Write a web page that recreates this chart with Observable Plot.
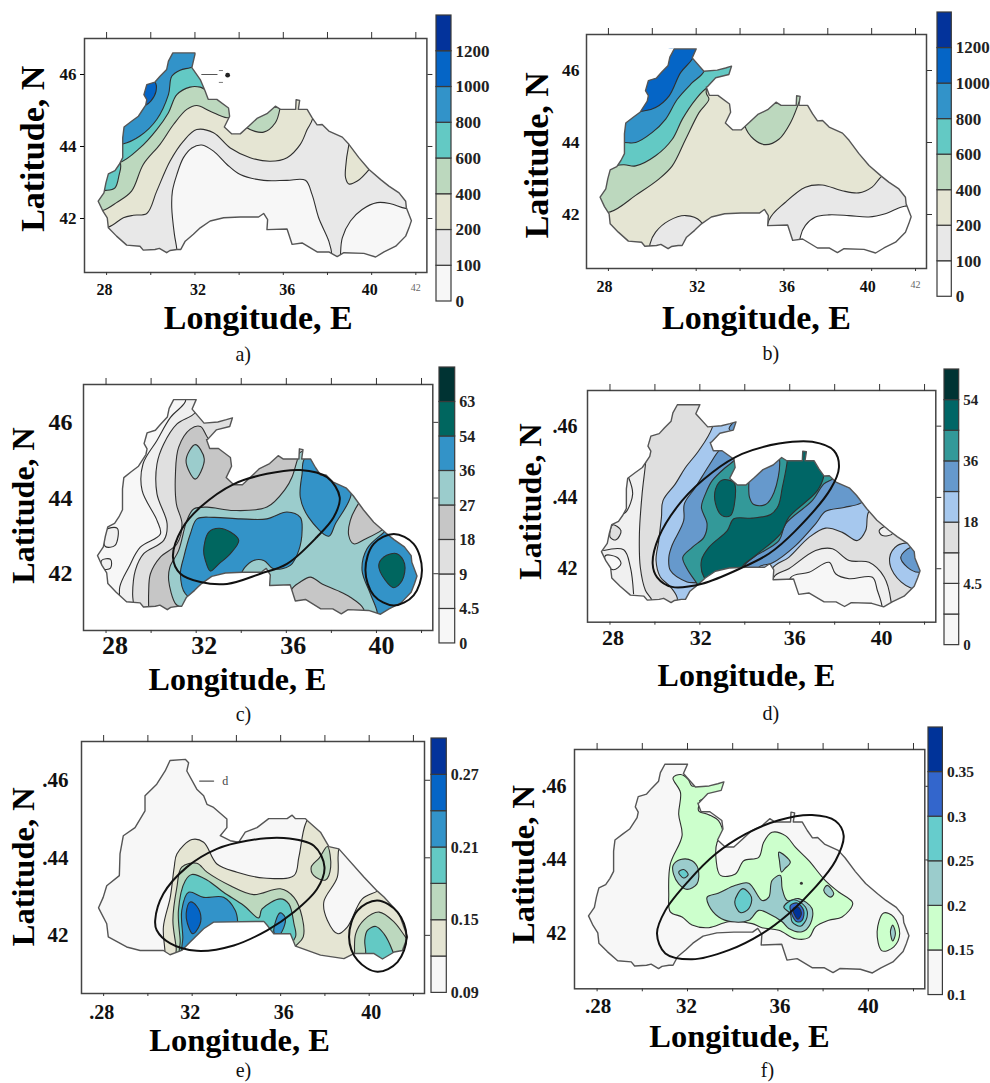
<!DOCTYPE html>
<html><head><meta charset="utf-8">
<script src="https://cdn.jsdelivr.net/npm/d3@7"></script>
<script src="https://cdn.jsdelivr.net/npm/@observablehq/plot@0.6"></script>
<style>html,body{margin:0;background:#fff;overflow:hidden}#page{position:relative;width:990px;height:1083px;overflow:hidden}#page svg{position:absolute;background:transparent;overflow:visible}</style>
</head><body><div id="page"></div>
<script>
// ---------- coastlines (lon E, lat N) ----------
const coastMain=[[31,46.6],[30.8,46.37],[30.72,46.14],[30.42,45.95],[30.19,45.79],[29.82,45.72],[29.69,45.44],[29.82,45.3],[29.77,45.15],[29.44,44.84],[29.13,44.7],[28.79,44.54],[28.73,44.24],[28.73,43.69],[28.57,43.5],[28.38,43.33],[28.08,43.24],[27.97,42.99],[27.88,42.71],[27.62,42.48],[27.82,42.22],[28.03,42.02],[28.08,41.74],[28.45,41.51],[28.91,41.26],[29.51,41.23],[29.66,41.12],[30.19,41.14],[30.39,41.17],[30.72,41.05],[30.87,41.11],[31.18,41.14],[31.36,41.14],[31.56,41.37],[31.93,41.56],[32.24,41.74],[32.69,41.93],[33.3,42.02],[34.05,42.04],[34.88,42.04],[35.11,42.14],[35.29,41.97],[35.26,41.69],[36.17,41.71],[36.4,41.28],[36.85,41.32],[37.53,41.07],[38.06,41.07],[38.44,40.94],[38.74,41.05],[39.65,41.03],[40.18,40.93],[40.56,41.07],[41.09,41.23],[41.54,41.51],[41.69,41.74],[41.8,41.94],[41.57,42.3],[41.54,42.48],[41.24,42.71],[40.78,42.9],[40.41,43.08],[39.88,43.36],[39.42,43.69],[38.97,44.06],[38.67,44.26],[38.06,44.43],[37.76,44.61],[37.53,44.6],[37.3,44.8],[37.08,45.03],[36.68,45.03],[36.74,45.28],[36.58,45.3],[36.56,45.03],[35.87,45.03],[35.64,45.12],[35.26,44.91],[34.81,44.78],[34.43,44.56],[34.05,44.35],[33.67,44.35],[33.33,44.54],[33.57,44.84],[33.52,45.07],[32.99,45.31],[32.6,45.31],[32.46,45.54]];
const coastNoArm=[[32.24,45.86],[31.86,46.19],[32,46.56],[32,46.6]];
const coastArm=[[32.51,45.55],[32.89,45.8],[33.49,45.89],[33.61,46.12],[33.34,46.07],[32.96,46.01],[32.35,45.98],[31.82,46.35],[32,46.6]];
const coastE=[[31,46.51],[30.78,46.24],[30.4,45.9],[29.87,45.6],[29.87,45.21],[29.42,44.78],[28.89,44.57],[28.74,44.1],[28.71,43.54],[28.14,43.28],[27.98,42.98],[27.77,42.71],[28.14,42.3],[28.21,41.96],[29.04,41.7],[29.65,41.61],[30.7,41.61],[31,41.5],[31.53,41.61],[31.91,41.83],[32.52,42.17],[32.97,42.34],[35.24,42.36],[35.39,42.26],[35.69,42.04],[36.44,42.04],[36.67,41.72],[37.8,41.49],[38.86,41.4],[39.31,41.53],[40.22,41.53],[40.6,41.39],[41.13,41.57],[41.5,41.61],[41.73,41.96],[41.35,42.56],[40.67,42.99],[40.37,43.14],[39.77,43.5],[38.63,44.23],[38.18,44.29],[37.8,44.66],[37.2,44.96],[37.12,45.01],[36.67,45.01],[36.52,45.1],[36.29,45.01],[35.46,45.01],[34.93,44.78],[34.4,44.66],[34.1,44.4],[33.72,44.44],[33.27,44.57],[33.57,44.78],[33.57,45],[32.97,45.3],[32.67,45.38],[32.52,45.6],[32.21,45.77],[31.76,46.24],[31.84,46.45],[31.69,46.54]];
const coastA=[...coastMain,...coastNoArm], coastFull=[...coastMain,...coastArm];

// ---------- colour bars ----------
const colorsA=["#f7f7f7","#e8e8e8","#e5e5d3","#bcd8be","#63c9c4","#3293c9","#0565c6","#03339b"];
const colorsB=["#ffffff","#e8e8e8","#e5e5d3","#bcd8be","#63c9c4","#3293c9","#0565c6","#03339b"];
const colorsC=["#f7f7f7","#f0f0f0","#e0e0e0","#c6c6c6","#9bcccc","#3393c8","#00665f","#003333"];
const colorsD=["#f7f7f7","#f7f7f7","#f0f0f0","#dfdfdf","#a6c8ee","#6699cc","#339999","#006666","#003333"];
const colorsE=["#f7f7f7","#e5e5d3","#bcd8be","#63c9c4","#3293c9","#0565c6","#03339b"];
const colorsF=["#f7f7f7","#ccffcc","#9bcccc","#66cccc","#3366cc","#003399"];
const barA=["0","100","200","400","600","800","1000","1200"];
const barC=["0","4.5","9","18","27","36","54","63"];
const barD=["0","","4.5","","18","","36","","54"];
const barE=["0.09","","0.15","","0.21","","0.27"];
const barF=["0.1","0.15","0.2","0.25","0.3","0.35"];

// ---------- contour regions: [colour index, outline], painted in order ----------
const regionsA=[
[0,[[31.18,41.14],[31.07,41.56],[30.95,42.3],[30.98,42.76],[31.18,43.22],[31.48,43.69],[31.86,43.96],[32.31,44.04],[32.84,43.87],[33.45,43.5],[34.05,43.22],[35.11,43.06],[36.17,43.06],[37,43.06],[37.3,42.67],[37.6,42.02],[38.06,41.37],[38.21,40.95],[38.2,40.63],[31.2,40.63]]],
[0,[[38.59,41],[38.67,41.46],[39.04,41.93],[39.57,42.25],[40.25,42.44],[40.86,42.41],[41.54,42.28],[42.3,42.28],[42.3,40.6],[38.59,40.6]]],
[2,[[28.08,41.76],[28.76,42.02],[29.21,42.09],[29.82,42.14],[30.27,42.76],[30.87,43.59],[31.48,44.15],[32.08,44.47],[32.84,44.38],[33.6,43.96],[34.5,43.69],[35.41,43.59],[36.17,43.69],[36.77,44.06],[37.08,44.47],[37.33,44.78],[37.5,46.9],[27.1,46.9],[27.1,41.76]]],
[2,[[38.97,44.06],[38.82,43.41],[38.82,43.13],[38.97,42.96],[39.35,43.04],[39.88,43.36],[40.5,43.9],[39.2,44.6]]],
[3,[[27.82,42.22],[28.45,42.44],[29.13,42.76],[29.66,43.5],[30.42,44.06],[31.03,44.61],[31.63,45.03],[32.08,45.14],[32.69,44.98],[33.45,44.8],[33.9,44.9],[33.9,46.9],[27.1,46.9],[27.1,42.22]]],
[3,[[34.35,44.52],[35.11,44.4],[35.64,44.66],[35.84,45.03],[35.9,45.5],[34.5,45.4],[34,44.8]]],
[4,[[28.57,43.55],[29.51,43.96],[30.27,44.47],[30.8,44.94],[31.18,45.44],[31.78,45.65],[32.24,45.65],[32.69,45.54],[33,46.8],[27.2,46.8],[27.2,43.55]]],
[4,[[27.97,42.78],[28.38,42.85],[28.57,43.22],[28.64,43.45],[28.5,43.8],[27.5,43.5],[27.5,42.8]]],
[5,[[28.73,44.07],[29.51,44.29],[30.27,44.75],[30.8,45.44],[30.95,45.95],[31.33,46.12],[31.78,46.19],[32.2,46.3],[32.2,46.9],[27.2,46.9],[27.2,44.07]]],
[6,[[30.19,45.79],[30.24,45.54],[30,45.26],[29.77,45.15],[29.2,45.2],[29.6,45.9]]]];
const regionsB=[
[3,[[28.11,42.08],[29.24,42.53],[30.31,42.99],[30.91,43.35],[31.52,44.09],[32.13,44.83],[32.58,45.2],[32.46,45.38],[32.6,46.9],[27.1,46.9],[27.1,42.08]]],
[4,[[28.71,43.38],[29.24,43.35],[30.15,43.63],[30.91,44.09],[31.37,44.65],[31.98,45.2],[32.51,45.52],[34,45.8],[34,46.9],[27.1,46.9],[27.1,43.38]]],
[5,[[28.71,44],[29.24,44],[30,44.28],[30.61,44.65],[31.14,45.2],[31.82,45.66],[32.36,45.98],[32.6,46.9],[27.1,46.9],[27.1,44]]],
[6,[[29.65,44.88],[30.15,44.97],[30.76,45.29],[31.29,45.94],[31.82,46.32],[32.2,46.9],[27.1,46.9],[27.1,44.88]]],
[3,[[34.22,44.46],[34.63,44.09],[35.16,43.94],[35.77,44.09],[36.3,44.55],[36.65,45.06],[36.9,45.5],[34.2,45.5]]],
[1,[[35.31,41.83],[36.07,42.34],[36.98,42.76],[37.74,42.82],[38.65,42.66],[39.41,42.6],[40.02,42.76],[40.5,43.08],[41.5,43.3],[42.3,42.5],[42.3,40.6],[35.31,40.6]]],
[0,[[36.76,41.4],[36.98,41.7],[37.44,41.93],[38.05,41.99],[38.96,41.97],[39.87,41.93],[40.62,42.02],[41.5,42.23],[42.3,42.2],[42.3,40.6],[36.76,40.6]]],
[1,[[29.9,41.19],[30.15,41.51],[30.76,41.83],[31.52,41.97],[32.2,41.81],[32.5,41.2],[31.5,40.6],[29.9,40.6]]]];
const regionsC=[
[1,[[31.52,46.55],[30.86,46.13],[30.26,45.52],[29.64,44.9],[29.6,44.2],[30.26,43.41],[30.41,43.05],[29.52,42.7],[29.01,42.17],[28.61,41.65],[28.64,41.12],[28.64,40.6],[42.4,40.6],[42.4,46.9],[31.52,46.9]]],
[2,[[31.96,46.26],[31.15,45.96],[30.56,45.43],[30.26,44.9],[30.26,44.11],[30.71,43.32],[30.56,42.88],[29.67,42.53],[29.3,42.09],[29.18,41.47],[29.23,41.12],[29.23,40.6],[42.4,40.6],[42.4,46.9],[32.3,46.9]]],
[3,[[32.56,45.56],[32.19,45.89],[31.74,45.82],[31.22,45.34],[31.08,44.64],[31.12,43.85],[31.37,43.32],[31.15,42.79],[30.41,42.44],[29.97,42],[29.89,41.47],[29.89,41.12],[29.89,40.6],[42.4,40.6],[42.4,45],[33,45.45]]],
[4,[[36.48,44.99],[36.25,44.55],[35.96,44.24],[35.14,43.76],[33.67,43.67],[32.48,43.76],[31.89,43.71],[31.59,43.41],[31.22,42.61],[30.83,42.17],[30.78,41.82],[31.08,41.21],[31.37,41.07],[31.4,40.6],[42.4,40.6],[42.4,45.2],[36.6,45.2]]],
[3,[[39.21,43.86],[38.84,43.41],[38.77,43.01],[38.99,42.79],[39.51,42.92],[40.25,43.16],[40.8,43.5],[39.8,44.3]]],
[3,[[36.21,41.56],[36.62,41.78],[37.07,41.91],[37.59,41.73],[38.25,41.56],[38.84,41.38],[39.43,41.07],[39.4,40.6],[36.2,40.6]]],
[5,[[32.04,43.45],[32.78,43.49],[33.96,43.45],[35.14,43.45],[36.03,43.63],[36.62,43.49],[36.7,43.14],[36.55,42.61],[36.18,42.22],[35.44,42.13],[35,42.35],[34.55,42.35],[34.15,42.16],[33.67,41.65],[32.04,41.3],[31.52,41.47],[31.3,42],[31.45,42.44],[31.74,43.05]]],
[5,[[36.8,45.03],[36.7,44.64],[36.62,44.02],[36.99,43.49],[37.88,42.99],[38.18,43.32],[38.87,44.07],[38.8,44.8],[37.5,45.3]]],
[5,[[40.03,40.99],[39.73,41.47],[39.36,42.09],[39.58,42.66],[40.25,43.05],[40.9,43.3],[42.4,42.8],[42.4,40.6],[40.03,40.6]]],
[6,[[32.33,42.61],[32.56,43.1],[33.01,43.2],[33.52,43.1],[33.89,42.88],[33.52,42.53],[33.01,42.26],[32.63,42.07],[32.41,42.35]]],
[6,[[40.1,42.22],[40.32,42.44],[40.91,42.53],[41.25,42.26],[41.14,41.82],[40.77,41.63],[40.4,41.82]]],
[4,[[31.96,45.41],[32.36,45.03],[31.96,44.5],[31.55,44.99]]],
[1,[[27.97,43.15],[28.5,43.2],[28.4,42.75],[27.97,42.72]]],
[1,[[27.8,42.35],[28.2,42.38],[28.2,42.15],[27.85,42.13]]]];
const regionsD=[
[3,[[29.65,45.54],[29.58,44.94],[29.43,44.1],[29.31,42.98],[29.35,42.04],[29.58,41.39],[29.87,41.11],[29.9,40.6],[42.4,40.6],[42.4,46.9],[29.65,46.9]]],
[4,[[32.55,45.96],[31.95,45.31],[31.36,44.84],[30.91,44.38],[30.36,43.91],[30.29,43.44],[30.17,42.79],[30.05,42.23],[30.24,41.77],[30.69,41.49],[30.99,41.19],[31,40.7],[35.3,40.7],[35.22,42],[35.96,42.32],[36.86,42.88],[37.6,43.14],[38.34,43.02],[39.01,42.79],[39.38,43.07],[39.5,43.58],[40,43.9],[39,44.6],[36,46.9],[32.8,46.9]]],
[5,[[32.92,45.36],[32.4,44.89],[31.8,44.28],[31.31,43.82],[31.28,43.35],[30.76,42.65],[30.62,42.32],[30.69,41.95],[31.43,41.63],[31.95,41.58],[33,41],[35,41.5],[34.63,42.04],[35.22,42.16],[36.26,42.65],[37.15,43.26],[37.6,43.61],[38.42,43.72],[39.16,43.84],[39.6,44.1],[38.5,45],[36,45.5],[33.5,45.6]]],
[5,[[33.3,45.92],[33.7,46.2],[33.7,45.8]]],
[6,[[33.56,45.06],[33.14,44.84],[32.55,44.47],[32.25,44.1],[32.07,43.72],[32.32,43.26],[32.18,42.88],[31.66,42.6],[31.24,42.32],[31.43,42],[31.88,41.58],[32.5,41],[34.5,41.3],[33.96,42.04],[34.4,42.32],[35.52,42.79],[35.82,43.26],[37,43.91],[37.52,44.38],[37.97,44.56],[38,45],[36,45.6],[34,45.6]]],
[5,[[34.18,44.47],[34.21,44],[34.4,43.8],[34.92,43.8],[35.3,44.14],[35.55,45.03],[35.3,45.5],[34.2,45.1]]],
[7,[[35.89,45.03],[35.67,44.28],[35.49,43.77],[35.15,43.52],[34.33,43.42],[33.51,43.4],[33.22,43.07],[32.4,42.6],[32.07,42.23],[32.18,41.77],[33,41.3],[34,41.7],[33.88,42.04],[34.48,42.37],[35.59,42.98],[35.96,43.44],[37.23,44.19],[37.52,44.61],[37.5,45.6],[35.9,45.6]]],
[7,[[32.7,44.24],[33,44.49],[33.51,44.42],[33.59,44.19],[33.36,43.49],[32.99,43.49],[32.7,43.82]]],
[2,[[35.3,41.77],[35.96,42],[37.15,42.51],[37.9,42.56],[38.64,42.23],[39.53,42.18],[40.2,41.77],[40.5,41.11],[40.5,40.6],[35.3,40.6]]],
[0,[[36.04,41.75],[36.86,41.9],[37.75,42.18],[38.04,41.86],[38.64,41.72],[39.68,41.76],[39.9,41.39],[40.1,40.97],[40.1,40.6],[36.04,40.6]]],
[4,[[41.46,42.74],[40.79,42.65],[40.45,42.32],[40.64,41.86],[41.39,41.46],[42.3,41.5],[42.3,42.7]]],
[5,[[41.39,42.6],[40.94,42.32],[41.24,42.04],[41.73,41.9],[42.3,42],[42.3,42.6]]],
[2,[[39.98,43.07],[40.42,43.21],[40.57,42.98],[40.12,42.93]]],
[3,[[28.01,42.88],[28.12,43.23],[28.49,43.07],[28.27,42.81]]],
[0,[[27.8,42.37],[28.31,42.32],[28.49,42.14],[28.16,41.97],[27.8,42.14]]]];
const linesD=[[[28.83,44.56],[29.01,44.1],[28.76,43.63],[28.61,43.54]],[[27.72,42.51],[28.61,42.53],[28.91,42.04],[29.05,41.3]]];
const regionsE=[
[1,[[30.78,41.52],[30.7,42.21],[31.01,42.98],[31.19,43.76],[31.31,44.1],[31.99,44.47],[32.52,44.4],[33.12,43.84],[34.03,43.63],[35.24,43.48],[36.6,43.54],[36.82,44.01],[37.12,44.87],[37.5,45.2],[39,44.6],[38.63,44.23],[38.56,43.5],[37.95,42.86],[38.11,42.39],[38.59,42.04],[39.01,42.21],[39.69,42.94],[40.37,43.14],[41,43.4],[42.3,42.5],[42.3,40.6],[30.78,40.6]]],
[2,[[31.28,41.66],[31.13,42.39],[31.31,43.24],[31.53,43.76],[32.21,43.86],[32.67,43.63],[33.73,43.28],[34.78,43.05],[35.99,43.2],[36.6,42.98],[36.97,42.47],[37.02,41.96],[36.67,41.72],[36,41.3],[31.3,41.3]]],
[2,[[39.34,41.49],[39.39,42.04],[39.77,42.4],[40.45,42.6],[41.13,42.34],[41.7,41.91],[42.3,41.5],[42.3,41],[39.34,41]]],
[2,[[37.38,43.76],[37.75,44.0],[38.11,44.29],[38.26,43.76],[38.03,43.43],[37.5,43.54]]],
[3,[[31.46,41.87],[31.38,42.64],[31.69,43.41],[31.99,43.57],[32.67,43.43],[33.42,43.11],[34.33,42.77],[35.01,42.45],[35.16,42.68],[35.99,42.94],[36.37,42.81],[36.6,42.3],[36.67,41.96],[36,41.6],[31.5,41.4]]],
[3,[[39.8,41.87],[39.92,42.13],[40.3,42.23],[40.67,42.04],[41.05,41.61],[41.2,41.3],[39.9,41.3],[39.84,41.61]]],
[4,[[31.58,41.96],[31.53,42.64],[31.84,43.11],[32.52,42.98],[33.42,42.98],[33.95,42.64],[34.06,42.34],[34,41.6],[31.6,41.4]]],
[4,[[35.69,42.1],[35.97,42.58],[36.2,42.47],[36.14,42.2],[35.84,41.95]]],
[5,[[31.73,42.56],[31.91,42.86],[32.21,42.75],[32.4,42.43],[32.21,42.13],[32.03,42.04],[31.79,42.3]]]];
const regionsF=[
[1,[[31.36,46.23],[31.69,46.32],[32.03,46.19],[32.2,46.01],[33.09,46.1],[33.68,46.14],[33.68,45.87],[32.94,45.74],[32.57,45.56],[32.5,45.33],[32.94,45.23],[33.38,45.06],[33.56,44.7],[33.31,44.48],[33.27,43.98],[33.46,43.58],[34.12,43.62],[34.49,43.98],[35.15,44.07],[35.37,44.48],[35.74,44.75],[36.33,44.66],[36.78,44.34],[37.37,43.98],[38.1,43.44],[38.69,43.13],[39.31,42.83],[38.84,42.45],[38.25,42.36],[37.66,42.18],[37.37,41.89],[36.78,41.86],[36.04,42.09],[35.3,42.16],[34.86,42.27],[33.83,42.32],[32.94,42.16],[32.2,42.23],[31.76,42.45],[31.24,42.59],[31.17,43.08],[31.24,43.89],[31.76,44.66],[31.61,45.24],[31.69,45.83]]],
[1,[[40.39,42.05],[40.68,42.56],[41.13,42.45],[41.39,42],[41.13,41.64],[40.61,41.53]]],
[2,[[40.98,42.05],[41.08,42.23],[41.2,42],[41.08,41.8]]],
[2,[[32.87,42.99],[33.38,43.1],[34.12,43.31],[34.71,43.37],[35.3,42.9],[35.6,42.99],[35.74,43.44],[36.11,43.58],[36.19,43.22],[36.41,42.9],[36.92,42.95],[37.51,42.68],[37.44,42.27],[37.07,42.05],[36.48,42.14],[36.19,42.32],[35.6,42.54],[35.15,42.63],[34.71,42.36],[33.97,42.32],[33.38,42.45],[32.94,42.77]]],
[2,[[36.04,44.21],[36.55,43.94],[36.3,43.76],[36.16,43.67],[36.07,43.98]]],
[2,[[31.36,43.85],[31.69,44.01],[32.2,43.98],[32.47,43.76],[32.42,43.35],[31.98,43.2],[31.61,43.35],[31.39,43.6]]],
[3,[[31.61,43.67],[31.83,43.74],[32.03,43.6],[31.83,43.51]]],
[2,[[38.03,43.17],[38.18,43.31],[38.47,43.08],[38.32,42.99]]],
[2,[[32.53,45.6],[32.94,45.71],[32.79,45.58]]],
[3,[[34.09,42.86],[34.45,43.22],[34.83,42.99],[34.71,42.68],[34.34,42.57]]],
[3,[[36.26,42.72],[36.7,42.92],[37.22,42.72],[37.29,42.45],[37,42.2],[36.63,42.32],[36.55,42.54]]],
[4,[[36.55,42.76],[36.85,42.83],[37.14,42.63],[37.07,42.36],[36.85,42.32],[36.63,42.5]]],
[5,[[36.67,42.67],[36.89,42.72],[37.04,42.54],[36.89,42.39],[36.75,42.5]]]];

// ---------- highlighted ellipses ----------
const ovalsC=[[[30.97,42.44],[31.37,43.19],[32.19,43.76],[33.67,44.37],[35.14,44.64],[36.62,44.74],[37.81,44.55],[38.37,44.02],[38.1,43.49],[37.36,42.97],[36.03,42.26],[34.85,42],[33.37,41.73],[32.19,41.78],[31.3,42]],
[[39.51,42.1],[39.88,42.79],[40.77,43.05],[41.65,42.79],[42.02,42.09],[41.65,41.43],[40.77,41.16],[39.88,41.43]]];
const ovalsD=[[[29.9,42.14],[30.17,42.88],[31.21,43.91],[32.55,44.7],[33.88,45.22],[35.52,45.51],[37,45.56],[37.97,45.31],[38.19,44.84],[37.82,44.24],[36.26,43.07],[35.07,42.42],[33.88,42.03],[32.1,41.58],[30.76,41.49],[30.1,41.76]]];
const ovalsE=[[[30.33,42.39],[30.7,43.07],[31.76,43.76],[33.12,44.23],[34.48,44.44],[36.14,44.51],[37.5,44.31],[37.98,43.76],[37.65,43.2],[36.6,42.6],[35.39,42.13],[33.88,41.74],[32.21,41.6],[31.01,41.79],[30.4,42.13]],
[[39.09,41.96],[39.47,42.64],[40.37,42.9],[41.28,42.6],[41.69,41.96],[41.28,41.31],[40.37,41.06],[39.47,41.36]]];
const ovalsF=[[[30.65,42],[31.02,42.63],[32.06,43.44],[33.24,44.16],[34.56,44.7],[36.04,45.08],[37.51,45.22],[38.55,45.06],[38.91,44.66],[38.55,43.98],[37.66,43.26],[36.48,42.54],[35.3,42],[33.83,41.55],[32.2,41.3],[31.02,41.46]]];

// ---------- axis ticks ----------
const lonEvery=[28,30,32,34,36,38,40,42], latEvery=[42,44,46];
const lonLabelled=[28,32,36,40];

// ---------- layout (px) ----------
const panels=[
 {cap:"a)",colors:colorsA,regions:regionsA,base:1,coast:coastA,ovals:[],lines:[],frame:[84.3,426.7,37.7,271.7],tick:16,ytick:17,pad:11,ypad:8,lonText:["28","32","36","40"],lonDx:[-2,3,4,-2],latText:["42","44","46"],small42:true,lonC:[258,317.5],latC:[32.5,148],capC:[243,354],fs:34,
  bar:[436,451,15,301],barText:barA,barFs:17,stray:"a"},
 {cap:"b)",colors:colorsB,regions:regionsB,base:2,coast:coastFull,ovals:[],lines:[],frame:[585.7,925.7,34.3,268.3],tick:16,ytick:17.5,pad:12,ypad:7,lonText:["28","32","36","40"],lonDx:[-4,1,3,-4],latText:["42","44","46"],small42:true,lonC:[755.7,317.5],latC:[536.5,155],capC:[770,353],fs:34,
  bar:[936.7,951,11.7,296],barText:barA,barFs:17},
 {cap:"c)",colors:colorsC,regions:regionsC,base:0,coast:coastFull,ovals:ovalsC,lines:[],frame:[83,432.3,384,630],tick:26,ytick:24,pad:5,ypad:11,lonText:["28","32","36","40"],lonDx:[9,8,7,5],latText:["42","44","46"],lonC:[237,679],latC:[23,505],capC:[243,714],fs:32,
  bar:[439.3,455,366.7,642.7],barText:barC,barFs:16},
 {cap:"d)",colors:colorsD,regions:regionsD,base:2,coast:coastFull,ovals:ovalsD,lines:linesD,frame:[586.7,935,390,621.7],tick:22,ytick:20,pad:7,ypad:10,lonText:["28","32","36","40"],lonDx:[3,1,5,2],latText:["42",".44",".46"],lonC:[745.7,675],latC:[530,501],capC:[770,713],fs:32,
  bar:[944.3,959,369.3,645],barText:barD,barFs:15},
 {cap:"e)",colors:colorsE,regions:regionsE,base:0,coast:coastE,ovals:ovalsE,lines:[],frame:[81,424,740.7,992.7],tick:20,ytick:21,pad:11,ypad:13,lonText:[".28","32","36","40"],lonDx:[-2,-2,3,2],latText:["42",".44",".46"],lonC:[239,1040],latC:[23,866],capC:[243,1070],fs:32.5,
  bar:[430.7,446,738.3,992.7],barText:barE,barFs:16,stray:"e"},
 {cap:"f)",colors:colorsF,regions:regionsF,base:0,coast:coastFull,ovals:ovalsF,lines:[],frame:[574,924.3,749,988.3],tick:21,ytick:20,pad:9,ypad:8,lonText:[".28","32","36","40"],lonDx:[1,-1,2,0],latText:["42",".44",".46"],lonC:[739,1036],latC:[523,864],capC:[767,1070],fs:32.5,
  bar:[928.3,942.7,726.7,994.3],barText:barF,barFs:15.5,dot:[[37.04,43.37]]}
];

const lon=d=>d[0], lat=d=>d[1], serif="'Liberation Serif','Times New Roman',serif";
const page=document.getElementById("page");
const ML=80,MR=20,MT=12,MB=90;

function maskOf(c){
  return [[27,47],[27,40.5],[42.5,40.5],[42.5,47],[27,47],c[0],...c.slice(1).reverse(),c[0]];
}
function place(svg,left,top){svg.style.left=left+"px";svg.style.top=top+"px";page.appendChild(svg);}

for(const p of panels){
  const [fl,fr,ft,fb]=p.frame;
  const stray=[];
  if(p.stray==="a"){
    stray.push(Plot.line([[32.31,46],[33,46]],{x:lon,y:lat,stroke:"#555",strokeWidth:1.2}));
    stray.push(Plot.line([[33.1,46.11],[33.25,46.11]],{x:lon,y:lat,stroke:"#777",strokeWidth:1}));
    stray.push(Plot.line([[33.1,45.78],[33.25,45.78]],{x:lon,y:lat,stroke:"#777",strokeWidth:1}));
    stray.push(Plot.dot([[33.48,45.98]],{x:lon,y:lat,r:2.4,fill:"#222"}));
  }
  if(p.stray==="e"){
    stray.push(Plot.line([[32.34,45.98],[32.97,45.98]],{x:lon,y:lat,stroke:"#555",strokeWidth:1.2}));
    stray.push(Plot.text(["d"],{x:()=>33.5,y:()=>45.97,text:d=>d,fontSize:12,fill:"#444",fontWeight:"normal"}));
  }
  const marks=[
    Plot.line(p.coast,{x:lon,y:lat,fill:p.colors[p.base],stroke:"none"}),
    ...p.regions.map(([c,pts])=>Plot.line(pts,{x:lon,y:lat,curve:"catmull-rom-closed",fill:p.colors[c],stroke:"#2f2f2f",strokeWidth:1.1,clip:true})),
    ...p.lines.map(pts=>Plot.line(pts,{x:lon,y:lat,curve:"catmull-rom",stroke:"#2f2f2f",strokeWidth:1.1,clip:true})),
    ...(p.dot?[Plot.dot(p.dot,{x:lon,y:lat,r:1.5,fill:"#333"})]:[]),
    Plot.line(maskOf(p.coast),{x:lon,y:lat,fill:"#ffffff",stroke:"none"}),
    Plot.line([...p.coast,p.coast[0]],{x:lon,y:lat,stroke:"#555",strokeWidth:1.4}),
    ...stray,
    Plot.frame({stroke:"#444",strokeWidth:1.5}),
    ...p.ovals.map(pts=>Plot.line(pts,{x:lon,y:lat,curve:"catmull-rom-closed",stroke:"#111",strokeWidth:2})),
    Plot.axisX({anchor:"top",ticks:lonEvery,tickSize:7,fill:"none",stroke:"#333",label:null}),
    Plot.axisX({anchor:"bottom",ticks:lonEvery,tickSize:3,fill:"none",stroke:"#333",label:null}),
    Plot.axisY({anchor:"right",ticks:latEvery,tickSize:5,fill:"none",stroke:"#333",label:null}),
    ...lonLabelled.map((v,i)=>Plot.axisX({anchor:"bottom",ticks:[v],tickSize:0,tickPadding:p.pad,dx:p.lonDx[i],fontSize:p.tick,fontWeight:"bold",fill:"#111",
      tickFormat:()=>p.lonText[i],label:null})),
    Plot.axisY({anchor:"left",ticks:latEvery,tickSize:p.stray==="a"?4:0,tickPadding:p.ypad-(p.stray==="a"?4:0),fontSize:p.ytick,fontWeight:"bold",fill:"#111",
      tickFormat:d=>p.latText[latEvery.indexOf(d)],label:null}),
    ...(p.small42?[Plot.axisX({anchor:"bottom",ticks:[42],tickSize:0,tickPadding:p.pad,fontSize:10,fontWeight:"normal",fill:"#666",tickFormat:d=>String(d),label:null})]:[]),
    Plot.text(["Longitude, E"],{frameAnchor:"top-left",dx:p.lonC[0]-fl,dy:p.lonC[1]-ft,text:d=>d,fontSize:p.fs,fontWeight:"bold",fill:"#000",textAnchor:"middle",lineAnchor:"middle"}),
    Plot.text(["Latitude, N"],{frameAnchor:"top-left",dx:p.latC[0]-fl,dy:p.latC[1]-ft,text:d=>d,fontSize:p.fs,fontWeight:"bold",fill:"#000",textAnchor:"middle",lineAnchor:"middle",rotate:-90}),
    Plot.text([p.cap],{frameAnchor:"top-left",dx:p.capC[0]-fl,dy:p.capC[1]-ft,text:d=>d,fontSize:20,fontWeight:"normal",fill:"#111",textAnchor:"middle",lineAnchor:"middle"})
  ];
  const svg=Plot.plot({
    width:fr-fl+ML+MR,height:fb-ft+MT+MB,marginLeft:ML,marginRight:MR,marginTop:MT,marginBottom:MB,
    x:{domain:[27,42.5],axis:null},y:{domain:[40.5,47],axis:null},
    style:{fontFamily:serif,fontWeight:"bold",background:"transparent",overflow:"visible"},
    marks
  });
  place(svg,fl-ML,ft-MT);

  // colour bar
  const [bl,br,bt,bb]=p.bar;
  const n=p.colors.length;
  const labelled=p.barText.map((t,i)=>[i,t]).filter(d=>d[1]!=="");
  const bar=Plot.plot({
    width:br-bl+50,height:bb-bt+22,marginLeft:1,marginRight:49,marginTop:11,marginBottom:11,
    x:{domain:[0,1],axis:null},y:{domain:[0,n],axis:null},
    style:{fontFamily:serif,fontWeight:"bold",background:"transparent",overflow:"visible"},
    marks:[
      Plot.rect(p.colors,{x1:()=>0,x2:()=>1,y1:(d,i)=>i,y2:(d,i)=>i+1,fill:d=>d,stroke:"#3a3a3a",strokeWidth:1.2}),
      Plot.text(labelled,{x:()=>1,y:d=>d[0],text:d=>d[1],dx:4,textAnchor:"start",fontSize:p.barFs,fill:"#222"})
    ]
  });
  place(bar,bl-1,bt-11);
}
</script></body></html>
